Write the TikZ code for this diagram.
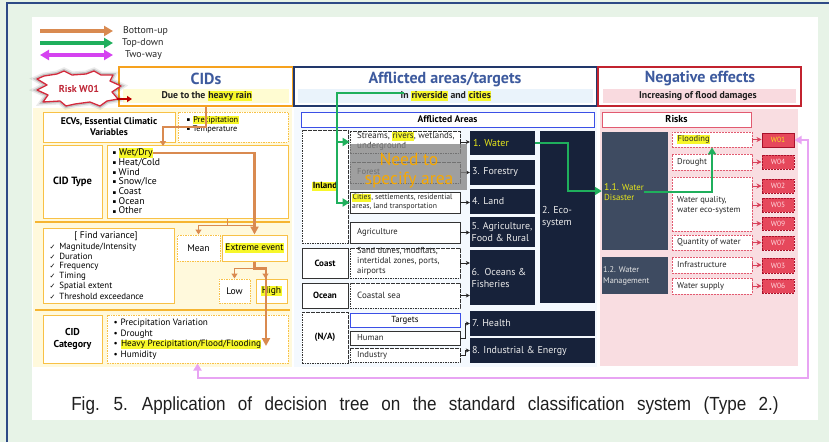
\documentclass[tikz,border=0pt]{standalone}
\usepackage{fontspec}
\setmainfont{PT Sans}
\newfontfamily\capfont[FakeStretch=0.9, WordSpace=2.6]{Liberation Sans}
\newfontfamily\symfont{DejaVu Sans}
\usetikzlibrary{arrows.meta}

\definecolor{bgGreen}{HTML}{E7F3E7}
\definecolor{frameBlue}{HTML}{2E4A86}
\definecolor{upOrange}{HTML}{D98A50}
\definecolor{downGreen}{HTML}{1FAF5C}
\definecolor{twoViolet}{HTML}{D542F0}
\definecolor{twoPink}{HTML}{E8A4F3}
\definecolor{cidOrange}{HTML}{F6A21E}
\definecolor{cidLine}{HTML}{F8C146}
\definecolor{sepOrange}{HTML}{F6B531}
\definecolor{cidPanel}{HTML}{FFF9DC}
\definecolor{cidBand}{HTML}{FFFCD2}
\definecolor{navyLine}{HTML}{22386B}
\definecolor{affBand}{HTML}{EAF3FB}
\definecolor{affPanel}{HTML}{F4F9FE}
\definecolor{negRed}{HTML}{C2232F}
\definecolor{negBand}{HTML}{F9DADF}
\definecolor{negPanel}{HTML}{F9DDE1}
\definecolor{titleBlue}{HTML}{3D5A9E}
\definecolor{hlYellow}{HTML}{F7F72A}
\definecolor{darkBox}{HTML}{17223A}
\definecolor{slateBox}{HTML}{3E4B61}
\definecolor{wFill}{HTML}{E6485C}
\definecolor{wLine}{HTML}{A8102A}
\definecolor{wText}{HTML}{FFD6DC}
\definecolor{riskLine}{HTML}{E25A70}
\definecolor{riskRed}{HTML}{D8415A}
\definecolor{areaBlue}{HTML}{3B4FE6}
\definecolor{waterYellow}{HTML}{E8E81A}
\definecolor{burstRed}{HTML}{D42A3C}
\definecolor{needOrange}{HTML}{F7A800}

\newcommand{\fsz}[2]{\fontsize{#1}{#2}\selectfont}
\newcommand{\hlt}[1]{{\setlength{\fboxsep}{0.4pt}\colorbox{hlYellow}{\vphantom{Ag}#1}}}
\newcommand{\sqb}{{\symfont\fsz{5.5}{6}\raisebox{0.6pt}{▪}}\hspace{2.5pt}}
\newcommand{\chk}{{\symfont\fsz{7}{8}✓}\hspace{4pt}}
% box from its corners: [style]{name}{x1}{y1}{x2}{y2}{text}
\newcommand{\boxat}[7][]{\node[inner sep=0pt, minimum width={(#5-#3)*1pt}, minimum height={(#6-#4)*1pt}, #1] (#2) at ({(#3+#5)/2},{(#4+#6)/2}) {#7};}

\tikzset{
  cidbox/.style={draw=cidLine, fill=white, line width=1pt},
  ciddot/.style={cidbox, dash pattern=on 1.5pt off 1pt},
  areabox/.style={draw=black!80, fill=white, line width=0.7pt},
  areadash/.style={areabox, dash pattern=on 1.6pt off 0.9pt},
  areatext/.style={anchor=west, align=left, inner sep=0pt, font=\fsz{8.6}{10}, text=black!85},
  sector/.style={fill=darkBox},
  sectortext/.style={anchor=west, align=left, inner sep=0pt, text=white!92!black, font=\fsz{10}{11.5}},
  riskbox/.style={draw=riskLine, fill=white, line width=0.8pt, dash pattern=on 2pt off 1pt},
  risktext/.style={anchor=west, align=left, inner sep=0pt, font=\fsz{8.5}{10}, text=black!85},
  wcode/.style={draw=wLine, fill=wFill, line width=1pt, dash pattern=on 2pt off 1pt, text=wText, font=\fsz{7.5}{8}},
  areaArrow/.style={draw=black!85, line width=0.6pt, {Bar[width=4pt]}-{Stealth[length=4pt,width=4pt]}},
  riskArrow/.style={draw=riskRed, line width=0.9pt, {Bar[width=4pt]}-{Stealth[length=5pt,width=5pt]}},
  upThick/.style={draw=upOrange, line width=2.6pt, -{Triangle[length=8pt,width=8pt]}},
  upThin/.style={draw=upOrange, line width=1.3pt, -{Triangle[length=5pt,width=6pt]}},
  downArrow/.style={draw=downGreen, line width=2pt, -{Triangle[length=7pt,width=8pt]}},
  twoWay/.style={draw=twoPink, line width=2pt, {Triangle[length=7pt,width=8pt]}-{Triangle[length=7pt,width=8pt]}},
  legendArrow/.style={line width=3.4pt, -{Triangle[length=9pt,width=10pt]}},
  legendTwo/.style={line width=3.4pt, {Triangle[length=9pt,width=10pt]}-{Triangle[length=9pt,width=10pt]}},
  legendText/.style={anchor=west, inner sep=0pt, font=\fsz{9.8}{11}, text=black!85},
  headTitle/.style={font=\fsz{16}{17}\bfseries, text=titleBlue},
  headSub/.style={font=\fsz{9.8}{11}\bfseries, text=black!88},
}

\begin{document}
\begin{tikzpicture}[x=1pt,y=-1pt]
\useasboundingbox (0,0) rectangle (829,442);
% page background and frame
\fill[bgGreen] (0,0) rectangle (829,442);
\draw[frameBlue, line width=1.4pt] (7,442) -- (7,3) -- (829,3);
\fill[white] (32,17) rectangle (818,420);

% legend
\coordinate (lgA1) at (40,31);  \coordinate (lgA2) at (113,31);
\coordinate (lgB1) at (40,43);  \coordinate (lgB2) at (113,43);
\coordinate (lgC1) at (40,55);  \coordinate (lgC2) at (113,55);
\draw[legendArrow, upOrange] (lgA1) -- (lgA2);
\draw[legendArrow, downGreen] (lgB1) -- (lgB2);
\draw[legendTwo, twoViolet] (lgC1) -- (lgC2);
\node[legendText] (lgTa) at (123,31) {Bottom-up};
\node[legendText] (lgTb) at (122,43) {Top-down};
\node[legendText] (lgTc) at (125,55) {Two-way};

% column panels
\fill[cidPanel] (33,108) rectangle (292,367);
\fill[affPanel] (294,108) rectangle (597,367);
\fill[negPanel] (600,109) rectangle (798,366);

% column headers
\boxat[draw=cidOrange, line width=1.6pt, fill=white]{cids}{119}{67}{293}{106}{}
\boxat[fill=cidBand]{cidsband}{123}{89}{289}{103}{}
\node[headTitle] (cidsTitle) at (206,79) {CIDs};
\node[headSub] (cidsSub) at (207,96) {Due to the \hlt{heavy rain}};

\boxat[draw=navyLine, line width=1.6pt, fill=white]{aff}{294}{67}{597}{106}{}
\boxat[fill=affBand]{affband}{298}{89}{593}{103}{}
\node[headTitle] (affTitle) at (445,79) {Afflicted areas/targets};
\node[headSub] (affSub) at (446,96) {in \hlt{riverside} and \hlt{cities}};

\boxat[draw=negRed, line width=1.6pt, fill=white]{neg}{598}{67}{801}{106}{}
\boxat[fill=negBand]{negband}{603}{89}{796}{103}{}
\node[headTitle] (negTitle) at (700,79) {Negative effects};
\node[headSub] (negSub) at (698,96) {Increasing of flood damages};

% risk badge
\draw[burstRed, line width=1.3pt, fill=white, line join=round,
      preaction={draw, line width=7pt, opacity=0.08},
      preaction={draw, line width=4pt, opacity=0.16}]
  (44,76) -- (57,74) -- (64,71) -- (72,75) -- (86,74) -- (94,71) -- (101,75) -- (113,75)
  -- (110,81) -- (121,86) -- (112,92) -- (118,99) -- (107,101) -- (100,106) -- (90,102)
  -- (75,104) -- (66,106) -- (60,101) -- (43,102) -- (48,95) -- (37,90) -- (47,85)
  -- (37,79) -- cycle;
\node[text=burstRed!90!black, font=\fsz{10}{12}\bfseries] (riskW) at (79,89) {Risk W01};
\coordinate (burstTip) at (117,99);
\coordinate (cidsEntry) at (132,99);
\draw[draw=red!75!black, line width=1.3pt, -{Triangle[length=5pt,width=6pt]}] (burstTip) -- (cidsEntry);

% ---- CIDs column ----
\boxat[cidbox, font=\fsz{9.6}{11}\bfseries, align=center]{ecv}{43}{112}{175}{142}{ECVs, Essential Climatic\\Variables}
\boxat[ciddot]{prec}{178}{112}{288}{142}{}
\node[anchor=west, inner sep=0.5pt, font=\fsz{8.3}{9}] (precA) at (186,120) {\sqb\hlt{Precipitation}};
\node[anchor=west, inner sep=0.5pt, font=\fsz{8.3}{9}] (precB) at (186,129) {\sqb Temperature};

\boxat[cidbox, font=\fsz{10.5}{12}\bfseries]{ctlabel}{43}{145}{102}{218}{CID Type}
\boxat[cidbox]{cidlist}{107}{145}{288}{218}{}
\foreach \t [count=\i] in {{\hlt{Wet/Dry}},Heat/Cold,Wind,Snow/Ice,Coast,Ocean,Other}
  \node[anchor=west, font=\fsz{9.7}{10}, inner sep=0.3pt] (ct\i) at (112,{153+9.6*(\i-1)}) {\sqb\t};

\draw[sepOrange, line width=2.6pt] (35,222) -- (290,222);
\draw[sepOrange, line width=2.6pt] (35,310) -- (290,310);

\boxat[cidbox]{variance}{43}{228}{174}{303}{}
\node[font=\fsz{9.6}{10}] (varTitle) at (106,236) {[ Find variance]};
\foreach \t [count=\i] in {Magnitude/Intensity,Duration,Frequency,Timing,Spatial extent,Threshold exceedance}
  \node[anchor=west, font=\fsz{8.9}{9}, inner sep=0.3pt] (vr\i) at (49,{247+9.8*(\i-1)}) {\chk\t};

\boxat[ciddot, font=\fsz{9.6}{10}]{mean}{177}{235}{220}{261}{Mean}
\boxat[cidbox, font=\fsz{9.4}{10}]{extreme}{222}{235}{287}{261}{\hlt{Extreme event}}
\boxat[ciddot, font=\fsz{9.6}{10}]{low}{219}{279}{250}{303}{Low}
\boxat[cidbox, font=\fsz{9.6}{10}]{high}{256}{279}{287}{303}{\hlt{High}}

\boxat[cidbox, font=\fsz{10}{12.5}\bfseries, align=center]{catlabel}{43}{315}{102}{363}{CID\\Category}
\boxat[ciddot]{catlist}{107}{315}{288}{363}{}
\foreach \t [count=\i] in {Precipitation Variation,Drought,{\hlt{Heavy Precipitation/Flood/Flooding}},Humidity}
  \node[anchor=west, font=\fsz{9.2}{9.5}, inner sep=0.3pt] (cat\i) at (113,{323.5+10.5*(\i-1)}) {\textbullet\hspace{3pt}\t};

% ---- afflicted areas column ----
\boxat[draw=areaBlue, line width=1pt, fill=white, font=\fsz{9.6}{10}\bfseries]{afflHead}{301}{112}{594}{127}{Afflicted Areas}
\boxat[areadash, font=\fsz{9}{10}\bfseries]{inland}{302}{130}{348}{243}{\hlt{Inland}}
\boxat[areadash]{streams}{350}{131}{460}{153}{}
\node[areatext, anchor=north west, font=\fsz{8.9}{10}] (streamsT) at (357,131.5) {Streams, \hlt{rivers}, wetlands,\\underground};
\boxat[areadash]{forest}{350}{162}{460}{183}{}
\node[areatext] (forestT) at (357,172) {Forest};
\boxat[areabox]{cities}{350}{192}{460}{213}{}
\node[areatext, anchor=north west, font=\fsz{7.7}{9}] (citiesT) at (352,193.5) {\hlt{Cities}, settlements, residential\\areas, land transportation};
\boxat[areabox]{agri}{350}{222}{460}{243}{}
\node[areatext] (agriT) at (357,232.5) {Agriculture};
\boxat[areabox, font=\fsz{9}{10}\bfseries]{coast}{302}{248}{348}{278}{Coast}
\boxat[areadash]{sand}{350}{248}{460}{278}{}
\node[areatext, anchor=north west, font=\fsz{8.6}{10}] (sandT) at (357,247.5) {Sand dunes, mudflats,\\intertidal zones, ports,\\airports};
\boxat[areabox, font=\fsz{9}{10}\bfseries]{ocean}{302}{283}{348}{308}{Ocean}
\boxat[areadash]{csea}{350}{283}{460}{308}{}
\node[areatext, font=\fsz{9}{10}] (cseaT) at (357,295.5) {Coastal sea};
\boxat[areadash, font=\fsz{9}{10}\bfseries]{na}{302}{312}{348}{363}{(N/A)}
\boxat[draw=areaBlue, line width=0.9pt, fill=white, font=\fsz{8.8}{9}]{targets}{350}{313}{460}{327}{Targets}
\boxat[areabox]{human}{350}{331}{460}{345}{}
\node[areatext] (humanT) at (357,338) {Human};
\boxat[areadash]{industry}{350}{348}{460}{362}{}
\node[areatext] (industryT) at (357,355) {Industry};

% sectors
\boxat[sector]{water}{470}{131}{535}{155}{}
\node[sectortext, text=waterYellow] (waterT) at (473,143) {1. Water};
\boxat[sector]{forestry}{470}{160}{535}{185}{}
\node[sectortext] (forestryT) at (472,172.5) {3. Forestry};
\boxat[sector]{land}{470}{189}{535}{214}{}
\node[sectortext] (landT) at (472,201.5) {4. Land};
\boxat[sector]{agri2}{470}{217}{535}{247}{}
\node[sectortext] (agri2T) at (471.5,232) {5. Agriculture,\\Food \& Rural};
\boxat[sector]{oceans}{470}{250}{535}{305}{}
\node[sectortext] (oceansT) at (471.5,278) {6.\ \ Oceans \&\\Fisheries};
\boxat[sector]{eco}{540}{131}{595}{303}{}
\node[sectortext] (ecoT) at (542,217) {2. Eco-\\system};
\boxat[sector]{health}{470}{311}{595}{336}{}
\node[sectortext] (healthT) at (472,323.5) {7. Health};
\boxat[sector]{indus}{470}{338}{595}{363}{}
\node[sectortext] (indusT) at (472,350.5) {8. Industrial \& Energy};

\draw[areaArrow] (streams.east) -- (streams.east -| water.west);
\draw[areaArrow] (forest.east) -- (forest.east -| forestry.west);
\draw[areaArrow] (cities.east) -- (cities.east -| land.west);
\draw[areaArrow] (agri.east) -- (agri.east -| agri2.west);
\draw[areaArrow] (sand.east) -- (sand.east -| oceans.west);
\draw[areaArrow] (csea.east) -- (csea.east -| oceans.west);
\draw[areaArrow] (human.east) -- ++(5,0) |- (health.west);
\draw[areaArrow] (industry.east) -- ++(5,0) |- (indus.west);

% unresolved area overlay
\boxat[fill=black!48, fill opacity=0.78]{needArea}{350}{144}{467}{190}{}
\node[text=needOrange, inner sep=0pt, align=center, font=\fsz{17.5}{18.5}] (needText) at (409,170.5) {Need to\\specify area};

% ---- negative effects column ----
\boxat[draw=riskLine, line width=1pt, fill=white, font=\fsz{10}{11}\bfseries]{risks}{602}{112}{751}{127}{Risks}
\boxat[fill=slateBox]{wd}{602}{132}{668}{250}{}
\node[anchor=west, align=left, inner sep=0pt, text=waterYellow, font=\fsz{8.8}{10.5}] (wdT) at (604,192) {{\fsz{9.8}{10.5}1.1.} Water\\Disaster};
\boxat[fill=slateBox]{wm}{602}{257}{668}{294}{}
\node[anchor=west, align=left, inner sep=0pt, text=white!90!black, font=\fsz{8.3}{10.5}] (wmT) at (603,276) {1.2. Water\\Management};

\boxat[riskbox]{flooding}{672}{132}{752}{147}{}
\node[risktext] (floodingT) at (677,139.5) {\hlt{Flooding}};
\boxat[riskbox]{drought}{672}{154}{752}{170}{}
\node[risktext] (droughtT) at (677,162) {Drought};
\boxat[riskbox]{wq}{672}{177}{752}{231}{}
\node[risktext] (wqT) at (677,205) {Water quality,\\water eco-system};
\boxat[riskbox]{quantity}{672}{235}{752}{250}{}
\node[risktext] (quantityT) at (677,242.5) {Quantity of water};
\boxat[riskbox]{infra}{672}{257}{752}{273}{}
\node[risktext] (infraT) at (677,265) {Infrastructure};
\boxat[riskbox]{supply}{672}{278}{752}{294}{}
\node[risktext] (supplyT) at (677,286) {Water supply};

\boxat[wcode, dash pattern=, text=hlYellow!80!orange]{w01}{762}{133}{794}{147}{W01}
\boxat[wcode]{w04}{762}{155}{794}{169}{W04}
\boxat[wcode]{w02}{762}{179}{794}{193}{W02}
\boxat[wcode]{w05}{762}{198}{794}{212}{W05}
\boxat[wcode]{w09}{762}{217}{794}{230}{W09}
\boxat[wcode]{w07}{762}{236}{794}{250}{W07}
\boxat[wcode]{w03}{762}{258}{794}{273}{W03}
\boxat[wcode]{w06}{762}{279}{794}{293}{W06}

\draw[riskArrow] (flooding.east) -- (flooding.east -| w01.west);
\draw[riskArrow] (drought.east) -- (drought.east -| w04.west);
\draw[riskArrow] (w02.west -| wq.east) -- (w02.west);
\draw[riskArrow] (w05.west -| wq.east) -- (w05.west);
\draw[riskArrow] (w09.west -| wq.east) -- (w09.west);
\draw[riskArrow] (quantity.east) -- (quantity.east -| w07.west);
\draw[riskArrow] (infra.east) -- (infra.east -| w03.west);
\draw[riskArrow] (supply.east) -- (supply.east -| w06.west);

% ---- bottom-up flow ----
\coordinate (wetIn) at (163,146);
\draw[upThin, line width=1.8pt] (cids.south) |- (163,127) -- (wetIn);
\draw[upThick] (ct1.east) -| (extreme.north);
\draw[upThin] ([xshift=30pt]cidlist.south) -- ++(0,7) coordinate (typeSplit) -| (mean.north);
\draw[draw=upOrange, line width=1.3pt] (typeSplit) -- (typeSplit -| extreme.north);
\draw[upThin] (extreme.south) -- ++(0,7) coordinate (extSplit) -| (low.north);
\draw[upThin] (extSplit) -| ([xshift=-6pt]high.north);
\coordinate (floodIn) at (266,346);
\draw[upThick] (extreme.south) -- (extSplit) -| (floodIn);

% ---- top-down flow ----
\coordinate (rivTap) at (404,93);
\coordinate (gx) at (337,0);
\coordinate (gx2) at (568,0);
\draw[downArrow] (rivTap) -| (gx |- cities.west) -- (cities.west);
\draw[downArrow] (gx |- streams.west) -- (streams.west);
\draw[downArrow] (water.east) -| (gx2 |- wd.west) -- (wd.west);
\draw[downArrow] (wdT.east) -| (flooding.south);

% ---- two-way link ----
\coordinate (loopCorner) at (808,378);
\draw[twoWay] (w01.east) -| (loopCorner) -| (catlist.south);

% caption
\node[font=\capfont\fsz{19}{21}, text=black!88] (caption) at (425,406)
  {Fig. 5. Application of decision tree on the standard classification system (Type 2.)};
\end{tikzpicture}
\end{document}
